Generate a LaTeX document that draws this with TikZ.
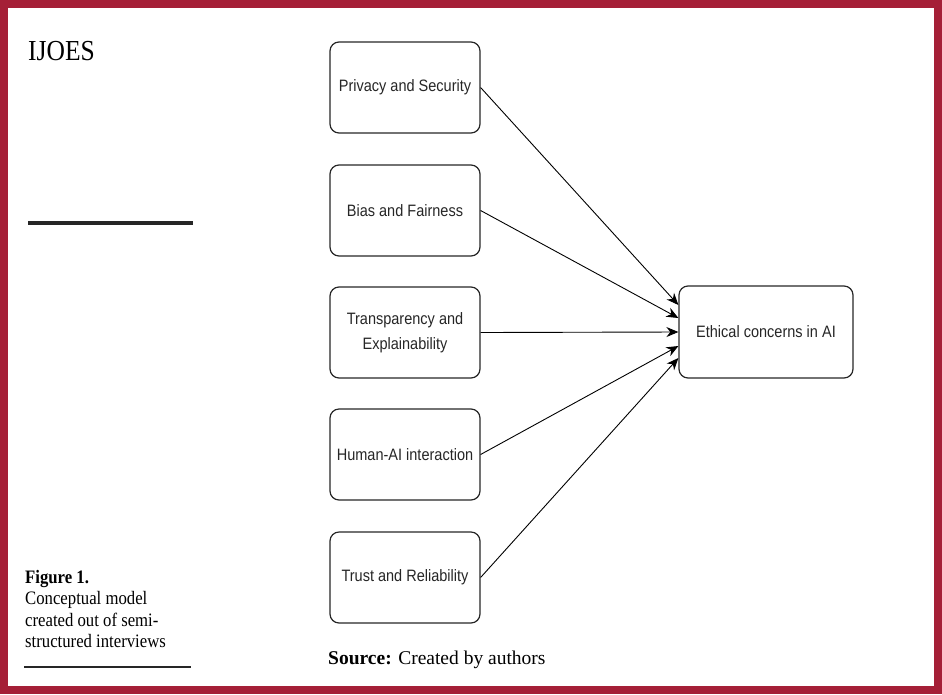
\documentclass[tikz,border=0pt]{standalone}
\usepackage{fontspec}
\setmainfont{Liberation Serif}
\newfontfamily\narrowserif[FakeStretch=0.88]{Liberation Serif}
\newfontfamily\boxfont[FakeStretch=0.88]{Liberation Sans}
\usetikzlibrary{
  arrows.meta,
  positioning,
  calc
}
\definecolor{frame}{HTML}{A51F37}

\begin{document}
\begin{tikzpicture}[
  x=1pt, y=-1pt,
  factor/.style={
    rectangle, rounded corners=9pt, draw=black!85, line width=1.2pt,
    minimum width=150pt, minimum height=91pt, align=center,
    font=\boxfont\fontsize{16.5}{25}\selectfont, text=black!85, inner sep=2pt
  },
  outcome/.style={factor, minimum width=174pt, minimum height=92pt},
  link/.style={-{Stealth[length=12pt, width=10pt]}, black, line width=0.9pt},
  caption/.style={font=\narrowserif\fontsize{19}{21.5}\selectfont, align=left, inner sep=0pt},
]
\useasboundingbox (0,0) rectangle (942,694);

% Frame
\draw[frame, line width=8pt] (4,4) rectangle (938,690);

% Journal label and rules
\node[anchor=base west, inner sep=0pt, font=\narrowserif\fontsize{29}{29}\selectfont] (journal) at (28,60) {IJOES};
\draw[line width=4pt, black!85] (28,223) -- (193,223);
\node[caption, anchor=north west] (fig) at (25,570)
  {\textbf{Figure 1.}\\Conceptual model\\created out of semi-\\structured interviews};
\draw[line width=1.3pt, black!85] (24,667) -- (191,667);

% Five factors in a column
\node[factor] (privacy) at (405,87.5) {Privacy and Security};
\node[factor] (bias) at (405,210.5) {Bias and Fairness};
\node[factor] (transp) at (405,332.5) {Transparency and\\Explainability};
\node[factor] (human) at (405,454.5) {Human-AI interaction};
\node[factor] (trust) at (405,577.5) {Trust and Reliability};

% Outcome
\node[outcome] (ethics) at (766,332) {Ethical concerns in AI};

% Links
\draw[link] (privacy.east) -- ($(ethics.west)+(0,-27)$);
\draw[link] (bias.east) -- ($(ethics.west)+(0,-14)$);
\draw[link] (transp.east) -- (ethics.west);
\draw[link] (human.east) -- ($(ethics.west)+(0,14)$);
\draw[link] (trust.east) -- ($(ethics.west)+(0,26)$);

% Source line
\node[anchor=base west, inner sep=0pt, font=\fontsize{19.5}{19.5}\selectfont] (source) at (328,664)
  {\textbf{Source:} Created by authors};

\end{tikzpicture}
\end{document}
